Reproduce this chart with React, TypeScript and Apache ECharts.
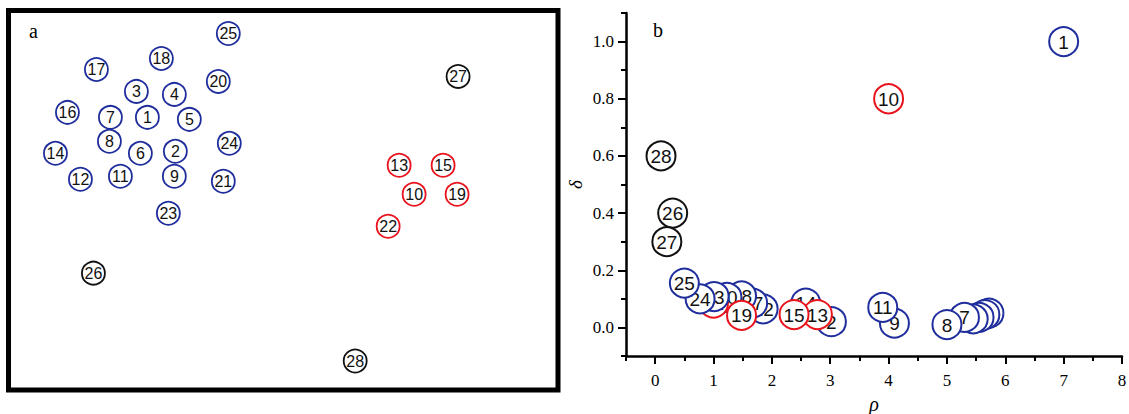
import React, { useEffect, useRef } from "react";
import * as echarts from "echarts";

// ---------- Panel a: 2-D layout of the 28 samples (arbitrary units) ----------
const aLabels = ["1","2","3","4","5","6","7","8","9","10","11","12","13","14","15","16","17","18","19","20","21","22","23","24","25","26","27","28"];
const aX = [139,167,128,166,181,132,102,101,166,406,112,72,391,47,435,59,88,153,449,210,215,380,160,221,220,85,450,347];
const aY = [273,239,299,296,271,237,273,249,214,196,214,211,225,237,225,278,321,332,196,309,209,164,177,247,357,117,314,29];
// 0 = blue cluster, 1 = red cluster, 2 = outlier (black)
const aGroup = [0,0,0,0,0,0,0,0,0,1,0,0,1,0,1,0,0,0,1,0,0,1,0,0,0,2,2,2];

// ---------- Panel b: decision graph (rho, delta), in drawing order ----------
const bLabels = ["1","10","28","26","27","6","5","4","3","7","8","9","11","2","14","13","15","16","21","12","17","18","20","22","23","24","19","25"];
const bRho =    [7.0,4.0,0.10,0.30,0.20,5.72,5.65,5.55,5.45,5.30,5.00,4.10,3.90,3.02,2.58,2.78,2.38,1.10,1.35,1.85,1.67,1.48,1.23,1.00,1.01,0.77,1.48,0.50];
const bDelta =  [1.0,0.80,0.60,0.40,0.30,0.05,0.045,0.035,0.03,0.035,0.01,0.015,0.07,0.02,0.085,0.045,0.045,0.10,0.10,0.065,0.085,0.11,0.105,0.085,0.108,0.10,0.042,0.155];
const bGroup =  [0,1,2,2,2,0,0,0,0,0,0,0,0,0,0,1,1,0,0,0,0,0,0,1,0,0,1,0];

// ---------- Axis ticks ----------
const xTicks = [0,1,2,3,4,5,6,7,8];
const xMinorTicks = [-0.5,0.5,1.5,2.5,3.5,4.5,5.5,6.5,7.5];
const yTicks = [0,0.2,0.4,0.6,0.8,1.0];
const yMinorTicks = [-0.1,0.1,0.3,0.5,0.7,0.9,1.1];

const COLORS = ["#1f2e9c", "#e8131d", "#111111"];
const SERIF = '"Liberation Serif", "Times New Roman", serif';
const SANS = '"Liberation Sans", Arial, sans-serif';

function circleSeries(xi: number, yi: number, xs: number[], ys: number[], labels: string[], groups: number[], r: number, fontSize: number, lw: number) {
  return {
    type: "custom",
    xAxisIndex: xi,
    yAxisIndex: yi,
    clip: false,
    data: xs.map((x, i) => [x, ys[i]]),
    renderItem: (params: any, api: any) => {
      const idx = params.dataIndex;
      const p = api.coord([api.value(0), api.value(1)]);
      return {
        type: "group",
        children: [
          {
            type: "circle",
            shape: { cx: p[0], cy: p[1], r },
            style: { fill: "#ffffff", stroke: COLORS[groups[idx]], lineWidth: lw },
          },
          {
            type: "text",
            x: p[0],
            y: p[1] + 0.5,
            style: {
              text: labels[idx],
              fill: "#111111",
              font: `${fontSize}px ${SANS}`,
              align: "center",
              verticalAlign: "middle",
            },
          },
        ],
      };
    },
  };
}

export default function App() {
  const ref = useRef<HTMLDivElement>(null);
  useEffect(() => {
    if (!ref.current) return;
    const chart = echarts.init(ref.current, undefined, { renderer: "svg" });
    const tickStyle = { color: "#000", width: 2 };
    const option: any = {
      animation: false,
      backgroundColor: "#ffffff",
      grid: [
        { left: 8.5, top: 10.5, width: 549.5, height: 379.5, show: true, borderColor: "#000", borderWidth: 5, backgroundColor: "#fff", outerBoundsMode: "none", containLabel: false },
        { left: 626, top: 13, right: 7, bottom: 58, outerBoundsMode: "none", containLabel: false },
      ],
      xAxis: [
        { gridIndex: 0, type: "value", min: 0, max: 550, show: false },
        {
          gridIndex: 1, type: "value", min: -0.5, max: 8, position: "bottom",
          name: "ρ", nameLocation: "middle", nameGap: 29,
          nameTextStyle: { fontFamily: SERIF, fontStyle: "italic", fontSize: 20, color: "#000" },
          axisLine: { onZero: false, lineStyle: { color: "#000", width: 2.5 } },
          axisTick: { customValues: xTicks, length: 8, lineStyle: tickStyle },
          axisLabel: { customValues: xTicks, margin: 16, fontFamily: SERIF, fontSize: 17, color: "#000", formatter: (v: number) => String(v) },
          splitLine: { show: false },
        },
        {
          gridIndex: 1, type: "value", min: -0.5, max: 8, position: "bottom",
          axisLine: { show: false, onZero: false },
          axisTick: { customValues: xMinorTicks, length: 5, lineStyle: tickStyle },
          axisLabel: { show: false },
          splitLine: { show: false },
        },
      ],
      yAxis: [
        { gridIndex: 0, type: "value", min: 0, max: 380, show: false },
        {
          gridIndex: 1, type: "value", min: -0.1, max: 1.1, position: "left",
          name: "δ", nameLocation: "middle", nameGap: 41, nameRotate: 90,
          nameTextStyle: { fontFamily: SERIF, fontStyle: "italic", fontSize: 19, color: "#000" },
          axisLine: { onZero: false, lineStyle: { color: "#000", width: 2.5 } },
          axisTick: { customValues: yTicks, length: 8, lineStyle: tickStyle },
          axisLabel: { customValues: yTicks, margin: 12, fontFamily: SERIF, fontSize: 17, color: "#000", formatter: (v: number) => v.toFixed(1) },
          splitLine: { show: false },
        },
        {
          gridIndex: 1, type: "value", min: -0.1, max: 1.1, position: "left",
          axisLine: { show: false, onZero: false },
          axisTick: { customValues: yMinorTicks, length: 5, lineStyle: tickStyle },
          axisLabel: { show: false },
          splitLine: { show: false },
        },
      ],
      graphic: [
        { type: "text", left: 29, top: 21, style: { text: "a", font: `20px ${SERIF}`, fill: "#000" } },
        { type: "text", left: 653, top: 20, style: { text: "b", font: `20px ${SERIF}`, fill: "#000" } },
      ],
      series: [
        circleSeries(0, 0, aX, aY, aLabels, aGroup, 11.5, 16, 1.8),
        circleSeries(1, 1, bRho, bDelta, bLabels, bGroup, 14.5, 19, 2),
      ],
    };
    chart.setOption(option);
    return () => chart.dispose();
  }, []);
  return <div ref={ref} style={{ position: "fixed", left: 0, top: 0, width: 1129, height: 414 }} />;
}
